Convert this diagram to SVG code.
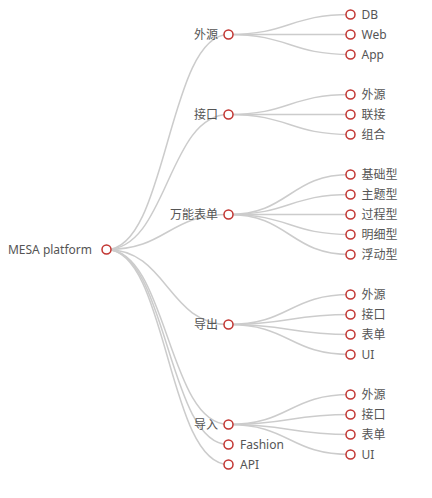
<svg xmlns="http://www.w3.org/2000/svg" width="432" height="498" viewBox="0 0 432 498">
<style>
.e{fill:none;stroke:#ccc;stroke-width:1.5}
.n{fill:#fff;stroke:#c23531;stroke-width:1.5}
text{font-family:"Noto Sans","Noto Sans CJK SC",sans-serif;font-size:12px;fill:#555;dominant-baseline:central}
.l{text-anchor:end}
</style>
<rect width="432" height="498" fill="#fff"/>
<g id="connectors">
<path class="e" d="M106.5 249.5C167.5 249.5 167.5 34.5 228.5 34.5"/>
<path class="e" d="M106.5 249.5C167.5 249.5 167.5 114.5 228.5 114.5"/>
<path class="e" d="M106.5 249.5C167.5 249.5 167.5 214.5 228.5 214.5"/>
<path class="e" d="M106.5 249.5C167.5 249.5 167.5 324.5 228.5 324.5"/>
<path class="e" d="M106.5 249.5C167.5 249.5 167.5 424.5 228.5 424.5"/>
<path class="e" d="M106.5 249.5C167.5 249.5 167.5 444.5 228.5 444.5"/>
<path class="e" d="M106.5 249.5C167.5 249.5 167.5 464.5 228.5 464.5"/>
<path class="e" d="M228.5 34.5C289.5 34.5 289.5 14.5 350.5 14.5"/>
<path class="e" d="M228.5 34.5C289.5 34.5 289.5 34.5 350.5 34.5"/>
<path class="e" d="M228.5 34.5C289.5 34.5 289.5 54.5 350.5 54.5"/>
<path class="e" d="M228.5 114.5C289.5 114.5 289.5 94.5 350.5 94.5"/>
<path class="e" d="M228.5 114.5C289.5 114.5 289.5 114.5 350.5 114.5"/>
<path class="e" d="M228.5 114.5C289.5 114.5 289.5 134.5 350.5 134.5"/>
<path class="e" d="M228.5 214.5C289.5 214.5 289.5 174.5 350.5 174.5"/>
<path class="e" d="M228.5 214.5C289.5 214.5 289.5 194.5 350.5 194.5"/>
<path class="e" d="M228.5 214.5C289.5 214.5 289.5 214.5 350.5 214.5"/>
<path class="e" d="M228.5 214.5C289.5 214.5 289.5 234.5 350.5 234.5"/>
<path class="e" d="M228.5 214.5C289.5 214.5 289.5 254.5 350.5 254.5"/>
<path class="e" d="M228.5 324.5C289.5 324.5 289.5 294.5 350.5 294.5"/>
<path class="e" d="M228.5 324.5C289.5 324.5 289.5 314.5 350.5 314.5"/>
<path class="e" d="M228.5 324.5C289.5 324.5 289.5 334.5 350.5 334.5"/>
<path class="e" d="M228.5 324.5C289.5 324.5 289.5 354.5 350.5 354.5"/>
<path class="e" d="M228.5 424.5C289.5 424.5 289.5 394.5 350.5 394.5"/>
<path class="e" d="M228.5 424.5C289.5 424.5 289.5 414.5 350.5 414.5"/>
<path class="e" d="M228.5 424.5C289.5 424.5 289.5 434.5 350.5 434.5"/>
<path class="e" d="M228.5 424.5C289.5 424.5 289.5 454.5 350.5 454.5"/>
</g>
<g id="root"><circle class="n" cx="106.5" cy="249.5" r="4.5"/><text class="l" x="92" y="249.5">MESA platform</text></g>
<g id="waiyuan"><circle class="n" cx="228.5" cy="34.5" r="4.5"/><text class="l" x="218" y="34.5">外源</text></g>
<g id="jiekou"><circle class="n" cx="228.5" cy="114.5" r="4.5"/><text class="l" x="218" y="114.5">接口</text></g>
<g id="biaodan"><circle class="n" cx="228.5" cy="214.5" r="4.5"/><text class="l" x="218" y="214.5">万能表单</text></g>
<g id="daochu"><circle class="n" cx="228.5" cy="324.5" r="4.5"/><text class="l" x="218" y="324.5">导出</text></g>
<g id="daoru"><circle class="n" cx="228.5" cy="424.5" r="4.5"/><text class="l" x="218" y="424.5">导入</text></g>
<g id="fashion"><circle class="n" cx="228.5" cy="444.5" r="4.5"/><text x="240" y="444.5">Fashion</text></g>
<g id="api"><circle class="n" cx="228.5" cy="464.5" r="4.5"/><text x="240" y="464.5">API</text></g>
<g id="db"><circle class="n" cx="350.5" cy="14.5" r="4.5"/><text x="361.5" y="14.5">DB</text></g>
<g id="web"><circle class="n" cx="350.5" cy="34.5" r="4.5"/><text x="361.5" y="34.5">Web</text></g>
<g id="app"><circle class="n" cx="350.5" cy="54.5" r="4.5"/><text x="361.5" y="54.5">App</text></g>
<g id="jk-waiyuan"><circle class="n" cx="350.5" cy="94.5" r="4.5"/><text x="361.5" y="94.5">外源</text></g>
<g id="jk-lianjie"><circle class="n" cx="350.5" cy="114.5" r="4.5"/><text x="361.5" y="114.5">联接</text></g>
<g id="jk-zuhe"><circle class="n" cx="350.5" cy="134.5" r="4.5"/><text x="361.5" y="134.5">组合</text></g>
<g id="bd-jichu"><circle class="n" cx="350.5" cy="174.5" r="4.5"/><text x="361.5" y="174.5">基础型</text></g>
<g id="bd-zhuti"><circle class="n" cx="350.5" cy="194.5" r="4.5"/><text x="361.5" y="194.5">主题型</text></g>
<g id="bd-guocheng"><circle class="n" cx="350.5" cy="214.5" r="4.5"/><text x="361.5" y="214.5">过程型</text></g>
<g id="bd-mingxi"><circle class="n" cx="350.5" cy="234.5" r="4.5"/><text x="361.5" y="234.5">明细型</text></g>
<g id="bd-fudong"><circle class="n" cx="350.5" cy="254.5" r="4.5"/><text x="361.5" y="254.5">浮动型</text></g>
<g id="dc-waiyuan"><circle class="n" cx="350.5" cy="294.5" r="4.5"/><text x="361.5" y="294.5">外源</text></g>
<g id="dc-jiekou"><circle class="n" cx="350.5" cy="314.5" r="4.5"/><text x="361.5" y="314.5">接口</text></g>
<g id="dc-biaodan"><circle class="n" cx="350.5" cy="334.5" r="4.5"/><text x="361.5" y="334.5">表单</text></g>
<g id="dc-ui"><circle class="n" cx="350.5" cy="354.5" r="4.5"/><text x="361.5" y="354.5">UI</text></g>
<g id="dr-waiyuan"><circle class="n" cx="350.5" cy="394.5" r="4.5"/><text x="361.5" y="394.5">外源</text></g>
<g id="dr-jiekou"><circle class="n" cx="350.5" cy="414.5" r="4.5"/><text x="361.5" y="414.5">接口</text></g>
<g id="dr-biaodan"><circle class="n" cx="350.5" cy="434.5" r="4.5"/><text x="361.5" y="434.5">表单</text></g>
<g id="dr-ui"><circle class="n" cx="350.5" cy="454.5" r="4.5"/><text x="361.5" y="454.5">UI</text></g>
</svg>
